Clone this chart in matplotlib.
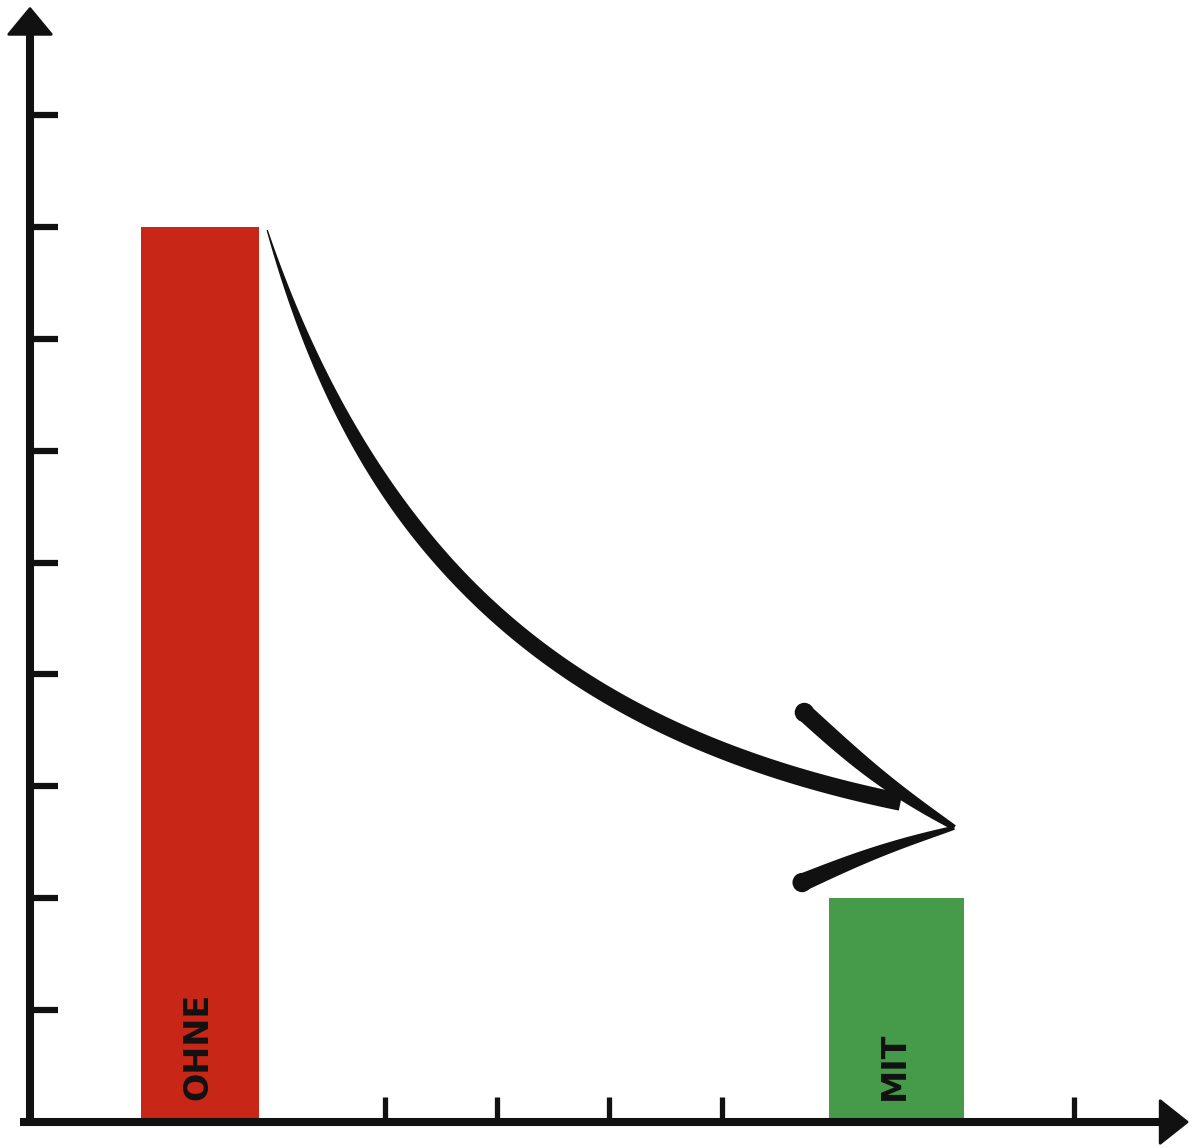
import numpy as np
import matplotlib
matplotlib.use("Agg")
import matplotlib.pyplot as plt
from matplotlib.patches import Polygon

# data
categories = ["OHNE", "MIT"]
values = [8, 2]
bar_colors = ["#C82616", "#469B4B"]

# layout (data units, one unit = one y tick step)
bar_pos = [1.52, 7.745]
bar_width = [1.06, 1.21]
y_ticks = [1, 2, 3, 4, 5, 6, 7, 8, 9]
x_ticks = [3.17, 4.17, 5.17, 6.18, 9.33]

UNIT = 111.9  # pixels per unit
INK = "#111111"


def stroke(ax, pts, widths, color=INK, z=5):
    # filled polygon along a centre line with variable width
    pts = np.asarray(pts)
    d = np.gradient(pts, axis=0)
    d /= np.linalg.norm(d, axis=1)[:, None]
    n = np.column_stack([-d[:, 1], d[:, 0]])
    left = pts + n * widths[:, None] / 2
    right = pts - n * widths[:, None] / 2
    poly = np.vstack([left, right[::-1]])
    ax.add_patch(Polygon(poly, closed=True, color=color, lw=0, zorder=z))


def bezier(p0, p1, p2, p3, t):
    t = t[:, None]
    return ((1 - t) ** 3 * p0 + 3 * (1 - t) ** 2 * t * p1
            + 3 * (1 - t) * t ** 2 * p2 + t ** 3 * p3)


fig = plt.figure(figsize=(12, 11.48), dpi=100)
ax = fig.add_axes([0, 0, 1, 1])
ax.set_xlim(-30 / UNIT, (1200 - 30) / UNIT)
ax.set_ylim(-(1148 - 1122) / UNIT, 1122 / UNIT)
ax.axis("off")

# bars
ax.bar(bar_pos, values, width=bar_width, color=bar_colors, zorder=3)
for x, lab in zip(bar_pos, categories):
    ax.text(x - 0.02, 0.2, lab, rotation=90, ha="center", va="bottom",
            fontsize=24, fontweight="heavy", color=INK, zorder=6,
            family="DejaVu Sans")

# axes with arrow heads
lw = 5.8
ax.plot([0, 0], [-0.04, 9.75], color=INK, lw=lw, solid_capstyle="butt", zorder=4)
ax.add_patch(Polygon([[-0.19, 9.72], [0.19, 9.72], [0, 9.95]],
                     closed=True, color=INK, lw=2, joinstyle="round", zorder=4))
ax.plot([-0.09, 10.1], [0, 0], color=INK, lw=lw, solid_capstyle="butt", zorder=4)
ax.add_patch(Polygon([[10.1, 0.19], [10.1, -0.19], [10.34, 0]],
                     closed=True, color=INK, lw=2, joinstyle="round", zorder=4))

for y in y_ticks:
    ax.plot([0, 0.25], [y, y], color=INK, lw=4.5, solid_capstyle="butt", zorder=2)
for x in x_ticks:
    ax.plot([x, x], [0, 0.22], color=INK, lw=3.8, solid_capstyle="butt", zorder=2)

# curved arrow from OHNE down to MIT
p0 = np.array([bar_pos[0] + bar_width[0] / 2 + 0.07, values[0] - 0.03])
p3 = np.array([7.78, values[1] + 0.86])
p1 = p0 + 3.0 * np.array([0.29, -0.94])
p2 = p3 - 3.2 * np.array([0.98, -0.2])
t = np.linspace(0, 1, 400)
shaft = bezier(p0, p1, p2, p3, t)
w = 0.012 + 0.125 * np.sin(np.clip(t / 0.4, 0, 1) * np.pi / 2) + 0.02 * t
stroke(ax, shaft, w)

# hand drawn arrow head
tip = np.array([8.26, 2.63])
s = np.linspace(0, 1, 120)
up_start = np.array([6.92, 3.66])
up = up_start[None, :] + s[:, None] * (tip - up_start)[None, :]
up[:, 1] -= 0.06 * np.sin(np.pi * s)
stroke(ax, up, 0.16 - 0.11 * s ** 2)
ax.add_patch(plt.Circle(up_start, 0.08, color=INK, zorder=5))

lo_end = np.array([6.90, 2.14])
lo = tip[None, :] + s[:, None] * (lo_end - tip)[None, :]
lo[:, 1] += 0.03 * np.sin(np.pi * s)
stroke(ax, lo, 0.035 + 0.125 * s ** 0.8)
ax.add_patch(plt.Circle(lo_end, 0.08, color=INK, zorder=5))

fig.savefig("out.png", dpi=100, facecolor="white")
